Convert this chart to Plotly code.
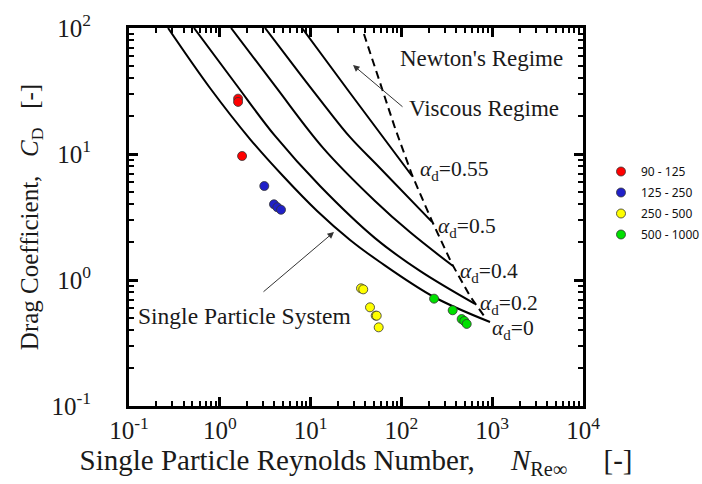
import plotly.graph_objects as go

# ---- data (Re, CD) ----
re_a0 = [0.269, 0.78, 2.15, 4.97, 11.8, 27.2, 58, 229, 946]
cd_a0 = [100, 33.4, 13.15, 6.69, 3.53, 2.08, 1.39, 0.733, 0.464]
re_a02 = [0.52, 1.47, 4.06, 12.7, 51.2, 160, 646]
cd_a02 = [100, 36.6, 13.9, 5.57, 2.15, 1.18, 0.646]
re_a04 = [1.33, 4.06, 13.7, 51.2, 124, 370]
cd_a04 = [100, 34.7, 11.2, 4.24, 2.40, 1.29]
re_a05 = [3.15, 7.64, 14.4, 27.2, 58, 217]
cd_a05 = [100, 43.2, 24.0, 13.6, 7.74, 2.89]
re_a055 = [8.04, 27.2, 131]
cd_a055 = [100, 30.5, 6.69]
re_newton = [38.7, 85.0, 131, 217, 361, 569, 813]
cd_newton = [89.6, 16.1, 6.81, 2.94, 1.34, 0.746, 0.518]

pts_labels = ["90 - 125", "125 - 250", "250 - 500", "500 - 1000"]
pts_colors = ["#ff0000", "#2020c8", "#ffff00", "#00e000"]
re_red = [1.59, 1.59, 1.76]
cd_red = [27.5, 25.9, 9.64]
re_blue = [3.09, 3.95, 4.30, 4.72]
cd_blue = [5.57, 3.99, 3.78, 3.61]
re_yellow = [35.9, 38.0, 45.1, 52.1, 53.5, 56.2]
cd_yellow = [0.859, 0.843, 0.607, 0.521, 0.521, 0.421]
re_green = [229, 367, 461, 493, 524]
cd_green = [0.711, 0.575, 0.490, 0.473, 0.448]

x_ticks = [0.1, 1, 10, 100, 1000, 10000]
x_ticktext = ["10<sup>-1</sup>", "10<sup>0</sup>", "10<sup>1</sup>", "10<sup>2</sup>",
              "10<sup>3</sup>", "10<sup>4</sup>"]
y_ticks = [0.1, 1, 10, 100]
y_ticktext = ["10<sup>-1</sup>", "10<sup>0</sup>", "10<sup>1</sup>", "10<sup>2</sup>"]

SERIF = "Liberation Serif, Times New Roman, serif"
INK = "#1a1a1a"
NB = "\u00a0"

fig = go.Figure()

for rx, cy in [(re_a0, cd_a0), (re_a02, cd_a02), (re_a04, cd_a04),
               (re_a05, cd_a05), (re_a055, cd_a055)]:
    fig.add_trace(go.Scatter(x=rx, y=cy, mode="lines", showlegend=False,
                             line=dict(color="black", width=2, shape="spline", smoothing=1.0),
                             hoverinfo="skip"))

fig.add_trace(go.Scatter(x=re_newton, y=cd_newton, mode="lines", showlegend=False,
                         line=dict(color="black", width=2, dash="8px,5px"),
                         hoverinfo="skip"))

for (rx, cy), lab, col in zip([(re_red, cd_red), (re_blue, cd_blue),
                               (re_yellow, cd_yellow), (re_green, cd_green)],
                              pts_labels, pts_colors):
    fig.add_trace(go.Scatter(x=rx, y=cy, mode="markers", name=lab, legendgroup=lab,
                             marker=dict(size=9, color=col,
                                         line=dict(color="#333333", width=0.8))))

def px_x(p):
    return (p - 129) / 454.0

def px_y(p):
    return (406 - p) / 378.0

ann = []
def label(text, x, y, size=23):
    ann.append(dict(text=text, x=px_x(x), y=px_y(y), xref="paper", yref="paper",
                    xanchor="left", yanchor="middle", showarrow=False,
                    font=dict(family=SERIF, size=size, color=INK)))

label("Newton's Regime", 398, 59)
label("Viscous Regime", 407, 108)
label("Single Particle System", 136, 316, 23.5)
label("<i>α</i><sub>d</sub>=0.55", 418, 170, 21.5)
label("<i>α</i><sub>d</sub>=0.5", 436, 227, 21.5)
label("<i>α</i><sub>d</sub>=0.4", 458, 272, 21.5)
label("<i>α</i><sub>d</sub>=0.2", 478, 304, 21.5)
label("<i>α</i><sub>d</sub>=0", 490, 329, 21.5)

ann.append(dict(text="", x=px_x(353), y=px_y(65), xref="paper", yref="paper",
                ax=51, ay=43, showarrow=True, arrowhead=2, arrowsize=1.3,
                arrowwidth=1, arrowcolor="#333333"))
ann.append(dict(text="", x=px_x(334), y=px_y(232), xref="paper", yref="paper",
                ax=-72, ay=61, showarrow=True, arrowhead=2, arrowsize=1.3,
                arrowwidth=1, arrowcolor="#333333"))

minor_x = [m * 10.0 ** e for e in range(-1, 4) for m in range(2, 10)]
minor_y = [m * 10.0 ** e for e in range(-1, 2) for m in range(2, 10)]

fig.update_layout(
    width=702, height=484,
    margin=dict(l=129, r=119, t=28, b=78, autoexpand=False),
    paper_bgcolor="white", plot_bgcolor="white",
    annotations=ann,
    legend=dict(xref="container", yref="container", x=601 / 702, y=1 - 157 / 484,
                xanchor="left", yanchor="top",
                traceorder="grouped", tracegroupgap=2,
                font=dict(family="Noto Sans, sans-serif", size=12, color="#111"),
                bgcolor="rgba(0,0,0,0)"),
    xaxis=dict(type="log", range=[-1, 4], showgrid=False, zeroline=False, automargin=False,
               showline=True, linecolor="black", linewidth=3, mirror="allticks",
               ticks="inside", ticklen=9, tickwidth=2.5, tickcolor="black",
               tickmode="array", tickvals=x_ticks, ticktext=x_ticktext,
               tickfont=dict(family=SERIF, size=25, color=INK),
               ticklabelstandoff=0,
               minor=dict(tickmode="array", tickvals=minor_x, ticks="inside",
                          ticklen=5, tickwidth=2, tickcolor="black", showgrid=False),
               title=dict(text="Single Particle Reynolds Number," + NB * 4 + " <i>N</i><sub>Re∞</sub>" + NB * 4 + " [-]",
                          font=dict(family=SERIF, size=29, color=INK), standoff=6)),
    yaxis=dict(type="log", range=[-1, 2], showgrid=False, zeroline=False, automargin=False,
               showline=True, linecolor="black", linewidth=3, mirror="allticks",
               ticks="inside", ticklen=9, tickwidth=2.5, tickcolor="black",
               tickmode="array", tickvals=y_ticks, ticktext=y_ticktext,
               tickfont=dict(family=SERIF, size=25, color=INK),
               ticklabelstandoff=30,
               minor=dict(tickmode="array", tickvals=minor_y, ticks="inside",
                          ticklen=5, tickwidth=2, tickcolor="black", showgrid=False),
               title=dict(text="Drag Coefficient," + NB * 2 + " <i>C</i><sub>D</sub>" + NB * 2 + " [-]",
                          font=dict(family=SERIF, size=25, color=INK), standoff=6)),
)

fig.write_html("out.html")
